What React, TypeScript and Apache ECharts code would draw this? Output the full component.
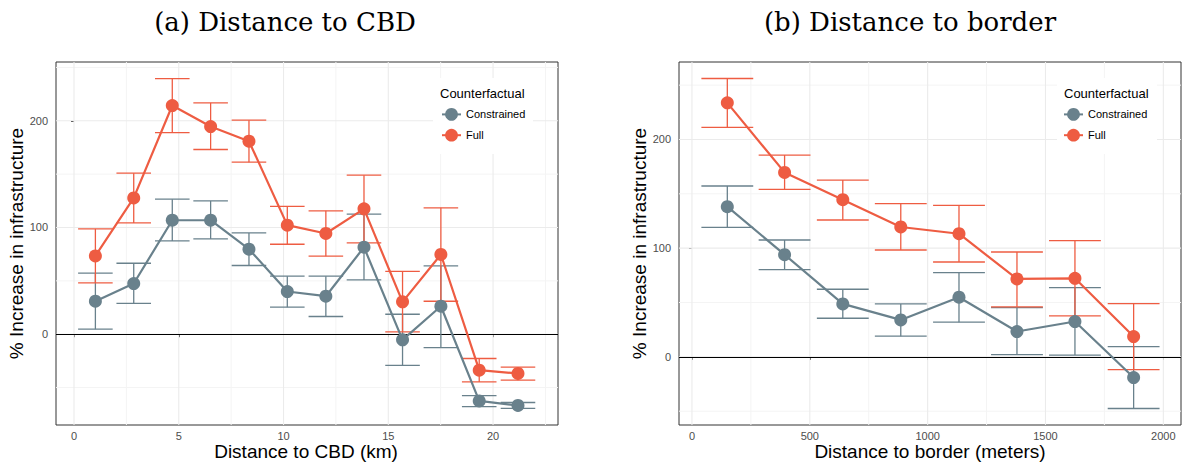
import React, { useEffect, useRef } from "react";
import * as echarts from "echarts";

// ---------- data ----------
const seriesNames = ["Constrained", "Full"];

// Panel (a): distance to CBD (km)
const cbdX = [1.02, 2.85, 4.69, 6.52, 8.35, 10.18, 12.02, 13.84, 15.68, 17.51, 19.34, 21.19];
const cbdConstrained = [30.9, 47.5, 106.8, 106.8, 79.7, 40.0, 35.6, 81.5, -5.3, 26.2, -62.5, -66.8];
const cbdConstrainedLo = [4.7, 28.8, 87.4, 89.3, 64.4, 25.3, 16.6, 50.9, -29.3, -12.5, -67.8, -69.6];
const cbdConstrainedHi = [57.2, 66.5, 126.5, 124.9, 94.9, 54.4, 54.4, 112.5, 18.7, 64.0, -57.5, -64.0];
const cbdFull = [73.4, 127.7, 214.3, 194.6, 180.9, 102.2, 94.4, 117.5, 30.3, 74.7, -33.7, -36.8];
const cbdFullLo = [48.1, 104.3, 189.0, 173.1, 161.2, 84.3, 73.1, 85.6, 2.2, 30.9, -44.7, -43.1];
const cbdFullHi = [98.7, 150.9, 239.6, 216.8, 200.6, 119.7, 115.6, 149.0, 58.8, 118.4, -22.8, -30.9];

// Panel (b): distance to border (meters)
const borderX = [150, 393, 640, 886, 1133, 1379, 1625, 1874];
const borderConstrained = [138.2, 94.0, 48.7, 34.0, 54.9, 23.3, 32.5, -19.0];
const borderConstrainedLo = [119.2, 80.3, 35.5, 19.0, 31.9, 2.1, 1.6, -47.5];
const borderConstrainedHi = [157.2, 107.5, 62.2, 48.7, 77.5, 45.3, 63.7, 9.5];
const borderFull = [233.7, 169.7, 144.6, 119.5, 113.3, 71.7, 72.3, 18.7];
const borderFullLo = [211.1, 154.1, 125.9, 98.3, 87.3, 46.0, 37.7, -11.7];
const borderFullHi = [256.1, 185.7, 162.7, 140.9, 139.4, 96.5, 106.9, 49.0];

// ticks / grid
const cbdXMajor = [0, 5, 10, 15, 20];
const cbdXMinor = [2.5, 7.5, 12.5, 17.5, 22.5];
const borderXMajor = [0, 500, 1000, 1500, 2000];
const borderXMinor = [250, 750, 1250, 1750];
const yMajor = [0, 100, 200];
const yMinor = [-50, 50, 150, 250];
const zeroLine = [0];

const titles = ["(a) Distance to CBD", "(b) Distance to border"];
const xNames = ["Distance to CBD (km)", "Distance to border (meters)"];
const yName = "% Increase in infrastructure";
const legendTitle = "Counterfactual";

// ---------- styles ----------
const GREY = "#69818C";
const RED = "#EE5C42";
const SANS = "Liberation Sans, Arial, sans-serif";

function gridData(xMaj: number[], xMin: number[], yMaj: number[], yMin: number[], zero: number[]) {
  const d: number[][] = [];
  xMin.forEach((v) => d.push([0, v]));
  yMin.forEach((v) => d.push([2, v]));
  xMaj.forEach((v) => d.push([1, v]));
  yMaj.forEach((v) => d.push([3, v]));
  zero.forEach((v) => d.push([4, v]));
  return d;
}

function gridRender(params: any, api: any) {
  const kind = api.value(0);
  const v = api.value(1);
  const cs = params.coordSys;
  const x0 = cs.x, y0 = cs.y, w = cs.width, h = cs.height;
  if (kind <= 1) {
    const px = api.coord([v, 0])[0];
    if (px < x0 || px > x0 + w) return null;
    return {
      type: "line",
      shape: { x1: px, y1: y0, x2: px, y2: y0 + h },
      style: { stroke: kind === 1 ? "#EBEBEB" : "#F4F4F4", lineWidth: kind === 1 ? 1.1 : 1 },
    };
  }
  const py = api.coord([0, v])[1];
  if (py < y0 || py > y0 + h) return null;
  const isZero = kind === 4;
  const yy = isZero ? Math.round(py) + 0.5 : py;
  return {
    type: "line",
    shape: { x1: x0, y1: yy, x2: x0 + w, y2: yy },
    style: {
      stroke: isZero ? "#000000" : kind === 3 ? "#EBEBEB" : "#F4F4F4",
      lineWidth: isZero ? 1.2 : kind === 3 ? 1.1 : 1,
    },
  };
}

function errRender(cap: number, color: string) {
  return (params: any, api: any) => {
    const x = api.value(0);
    const lo = api.value(1);
    const hi = api.value(2);
    const top = api.coord([x, hi]);
    const bot = api.coord([x, lo]);
    const l = api.coord([x - cap / 2, hi])[0];
    const r = api.coord([x + cap / 2, hi])[0];
    const style = { stroke: color, lineWidth: 1.3 };
    return {
      type: "group",
      children: [
        { type: "line", shape: { x1: top[0], y1: top[1], x2: bot[0], y2: bot[1] }, style },
        { type: "line", shape: { x1: l, y1: top[1], x2: r, y2: top[1] }, style },
        { type: "line", shape: { x1: l, y1: bot[1], x2: r, y2: bot[1] }, style },
      ],
    };
  };
}

export default function App() {
  const ref = useRef<HTMLDivElement>(null);
  useEffect(() => {
    if (!ref.current) return;
    const chart = echarts.init(ref.current, undefined, { renderer: "svg" });

    const grids = [
      { left: 56, top: 62, width: 502, height: 363 },
      { left: 679, top: 62, width: 502, height: 363 },
    ];
    const xRanges = [
      [-0.86, 23.1],
      [-55, 2075],
    ];
    const yRanges = [
      [-85.1, 255.1],
      [-62.7, 271.3],
    ];
    const xMajors = [cbdXMajor, borderXMajor];
    const xMinors = [cbdXMinor, borderXMinor];
    const caps = [1.65, 220];
    const xs = [cbdX, borderX];
    const cons = [cbdConstrained, borderConstrained];
    const consLo = [cbdConstrainedLo, borderConstrainedLo];
    const consHi = [cbdConstrainedHi, borderConstrainedHi];
    const full = [cbdFull, borderFull];
    const fullLo = [cbdFullLo, borderFullLo];
    const fullHi = [cbdFullHi, borderFullHi];
    const titleCenters = [285, 910];
    const xNameCenters = [306, 930];
    const legendTitleX = [440, 1064];
    const legendLefts = [436, 1058];

    const series: any[] = [];
    [0, 1].forEach((i) => {
      series.push({
        type: "custom",
        name: "grid" + i,
        xAxisIndex: i,
        yAxisIndex: i,
        z: 1,
        silent: true,
        renderItem: gridRender,
        encode: { x: 1, y: 1 },
        data: gridData(xMajors[i], xMinors[i], yMajor, yMinor, zeroLine),
      });
      series.push({
        type: "custom",
        name: seriesNames[0] + " CI",
        xAxisIndex: i,
        yAxisIndex: i,
        z: 3,
        itemStyle: { color: GREY },
        renderItem: errRender(caps[i], GREY),
        encode: { x: 0, y: [1, 2] },
        data: xs[i].map((x, k) => [x, consLo[i][k], consHi[i][k]]),
      });
      series.push({
        type: "custom",
        name: seriesNames[1] + " CI",
        xAxisIndex: i,
        yAxisIndex: i,
        z: 3,
        itemStyle: { color: RED },
        renderItem: errRender(caps[i], RED),
        encode: { x: 0, y: [1, 2] },
        data: xs[i].map((x, k) => [x, fullLo[i][k], fullHi[i][k]]),
      });
      series.push({
        type: "line",
        name: seriesNames[0],
        xAxisIndex: i,
        yAxisIndex: i,
        z: 4,
        color: GREY,
        symbol: "circle",
        symbolSize: 13,
        lineStyle: { width: 2.2, color: GREY },
        itemStyle: { color: GREY },
        data: xs[i].map((x, k) => [x, cons[i][k]]),
      });
      series.push({
        type: "line",
        name: seriesNames[1],
        xAxisIndex: i,
        yAxisIndex: i,
        z: 5,
        color: RED,
        symbol: "circle",
        symbolSize: 13,
        lineStyle: { width: 2.2, color: RED },
        itemStyle: { color: RED },
        data: xs[i].map((x, k) => [x, full[i][k]]),
      });
    });

    const graphics: any[] = [];
    [0, 1].forEach((i) => {
      graphics.push({
        type: "text",
        x: titleCenters[i],
        y: 22,
        z: 10,
        style: {
          text: titles[i],
          fontFamily: "DejaVu Serif, serif",
          fontSize: 26,
          fill: "#000",
          textAlign: "center",
          textVerticalAlign: "middle",
        },
      });
      graphics.push({
        type: "text",
        x: xNameCenters[i],
        y: 451,
        z: 10,
        style: {
          text: xNames[i],
          fontFamily: SANS,
          fontSize: 19,
          fill: "#000",
          textAlign: "center",
          textVerticalAlign: "middle",
        },
      });
      graphics.push({
        type: "rect",
        z: 8,
        shape: { x: legendTitleX[i] - 7, y: 78, width: 100, height: 76 },
        style: { fill: "#FFFFFF" },
      });
      graphics.push({
        type: "text",
        x: legendTitleX[i],
        y: 93,
        z: 10,
        style: {
          text: legendTitle,
          fontFamily: SANS,
          fontSize: 13,
          fill: "#000",
          textAlign: "left",
          textVerticalAlign: "middle",
        },
      });
    });

    const option: any = {
      animation: false,
      backgroundColor: "#FFFFFF",
      grid: grids.map((g) => ({
        ...g,
        show: true,
        borderColor: "#333333",
        borderWidth: 1,
        backgroundColor: "transparent",
        containLabel: false,
        outerBoundsMode: "none",
      })),
      xAxis: [0, 1].map((i) => ({
        type: "value",
        gridIndex: i,
        min: xRanges[i][0],
        max: xRanges[i][1],
        axisLine: { show: false },
        splitLine: { show: false },
        axisTick: {
          show: true,
          length: 3,
          customValues: xMajors[i],
          lineStyle: { color: "#333333", width: 1 },
        },
        axisLabel: {
          customValues: xMajors[i],
          formatter: (v: number) => String(v),
          color: "#4D4D4D",
          fontFamily: SANS,
          fontSize: 11,
          margin: 5,
        },
      })),
      yAxis: [0, 1].map((i) => ({
        type: "value",
        gridIndex: i,
        min: yRanges[i][0],
        max: yRanges[i][1],
        name: yName,
        nameLocation: "middle",
        nameGap: 29,
        nameTextStyle: { fontFamily: SANS, fontSize: 19, color: "#000" },
        axisLine: { show: false },
        splitLine: { show: false },
        axisTick: {
          show: true,
          length: 3,
          customValues: yMajor,
          lineStyle: { color: "#333333", width: 1 },
        },
        axisLabel: {
          customValues: yMajor,
          formatter: (v: number) => String(v),
          color: "#4D4D4D",
          fontFamily: SANS,
          fontSize: 11,
          margin: 8,
        },
      })),
      legend: [0, 1].map((i) => ({
        data: seriesNames,
        orient: "vertical",
        left: legendLefts[i],
        top: 103,
        z: 12,
        padding: 5,
        itemWidth: 19,
        itemHeight: 16,
        itemGap: 8,
        selectedMode: false,
        textStyle: { fontFamily: SANS, fontSize: 11, color: "#000" },
      })),
      graphic: graphics,
      series,
    };
    chart.setOption(option);
    return () => chart.dispose();
  }, []);
  return (
    <div
      ref={ref}
      style={{ position: "absolute", left: 0, top: 0, width: 1182, height: 464 }}
    />
  );
}
